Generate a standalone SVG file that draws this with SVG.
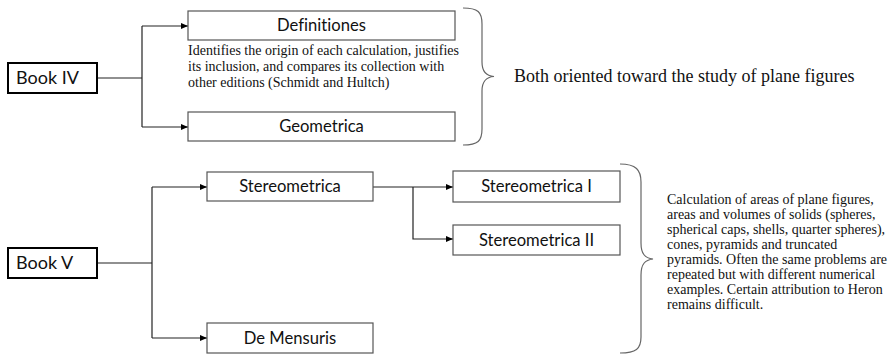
<svg xmlns="http://www.w3.org/2000/svg" width="894" height="354" viewBox="0 0 894 354">
<style>
.box{fill:#fff;stroke:#555;stroke-width:1.2}
.book{fill:#fff;stroke:#000;stroke-width:2}
.lbl{font-family:Lato,"Liberation Sans",sans-serif;font-size:16.6px;fill:#111;text-anchor:middle;font-variant-ligatures:none}
.blbl{font-family:Lato,"Liberation Sans",sans-serif;font-size:18px;fill:#111}
.ser{font-family:"Liberation Serif",serif;fill:#111}
.con{fill:none;stroke:#222;stroke-width:1.2}
.brace{fill:none;stroke:#666;stroke-width:1.2}
</style>
<defs>
<marker id="ah" markerWidth="7" markerHeight="6" refX="7" refY="3" orient="auto" markerUnits="userSpaceOnUse">
<path d="M0,0 L7,3 L0,6 Z" fill="#000"/>
</marker>
</defs>
<g id="connectors">
<path class="con" d="M97,78 H142"/>
<path class="con" d="M142,26 V127"/>
<path class="con" d="M142,26 H188" marker-end="url(#ah)"/>
<path class="con" d="M142,127 H188" marker-end="url(#ah)"/>
<path class="con" d="M97,263 H152"/>
<path class="con" d="M152,187 V338"/>
<path class="con" d="M152,187 H207" marker-end="url(#ah)"/>
<path class="con" d="M152,338 H207" marker-end="url(#ah)"/>
<path class="con" d="M373,187 H453" marker-end="url(#ah)"/>
<path class="con" d="M413,187 V239 H453" marker-end="url(#ah)"/>
</g>
<g id="book4">
<rect class="book" x="8" y="63" width="89" height="30"/>
<text class="blbl" x="16" y="84">Book IV</text>
</g>
<g id="definitiones">
<rect class="box" x="188" y="11" width="267" height="29"/>
<text class="lbl" x="321.5" y="31">Definitiones</text>
</g>
<g id="def-note">
<text class="ser" font-size="14" x="188" y="55">Identifies the origin of each calculation, justifies</text>
<text class="ser" font-size="14" x="188" y="71">its inclusion, and compares its collection with</text>
<text class="ser" font-size="14" x="188" y="87">other editions (Schmidt and Hultch)</text>
</g>
<g id="geometrica">
<rect class="box" x="188" y="112" width="267" height="29"/>
<text class="lbl" x="321.5" y="132">Geometrica</text>
</g>
<g id="brace1">
<path class="brace" d="M463,8 C478,8 482,12 482,24 V62 C482,72 486,76 494,76.5 C486,77 482,81 482,91 V129 C482,141 478,145 463,145"/>
<text class="ser" font-size="18" x="514" y="82">Both oriented toward the study of plane figures</text>
</g>
<g id="book5">
<rect class="book" x="8" y="248" width="89" height="30"/>
<text class="blbl" x="16" y="269">Book V</text>
</g>
<g id="stereometrica">
<rect class="box" x="207" y="172" width="166" height="29"/>
<text class="lbl" x="290" y="192">Stereometrica</text>
</g>
<g id="demensuris">
<rect class="box" x="207" y="323" width="166" height="30"/>
<text class="lbl" x="290" y="344">De Mensuris</text>
</g>
<g id="stereometrica1">
<rect class="box" x="453" y="171" width="167" height="31"/>
<text class="lbl" x="536.5" y="192">Stereometrica I</text>
</g>
<g id="stereometrica2">
<rect class="box" x="453" y="225" width="167" height="30"/>
<text class="lbl" x="536.5" y="246">Stereometrica II</text>
</g>
<g id="brace2">
<path class="brace" d="M620,164 C636,164 641,170 641,182 V243 C641,254 645,258 653,259 C645,260 641,264 641,275 V337 C641,349 636,353 620,353"/>
<g class="ser" font-size="14">
<text x="667" y="204">Calculation of areas of plane figures,</text>
<text x="667" y="219">areas and volumes of solids (spheres,</text>
<text x="667" y="234">spherical caps, shells, quarter spheres),</text>
<text x="667" y="249">cones, pyramids and truncated</text>
<text x="667" y="264">pyramids. Often the same problems are</text>
<text x="667" y="279">repeated but with different numerical</text>
<text x="667" y="294">examples. Certain attribution to Heron</text>
<text x="667" y="309">remains difficult.</text>
</g>
</g>
</svg>
